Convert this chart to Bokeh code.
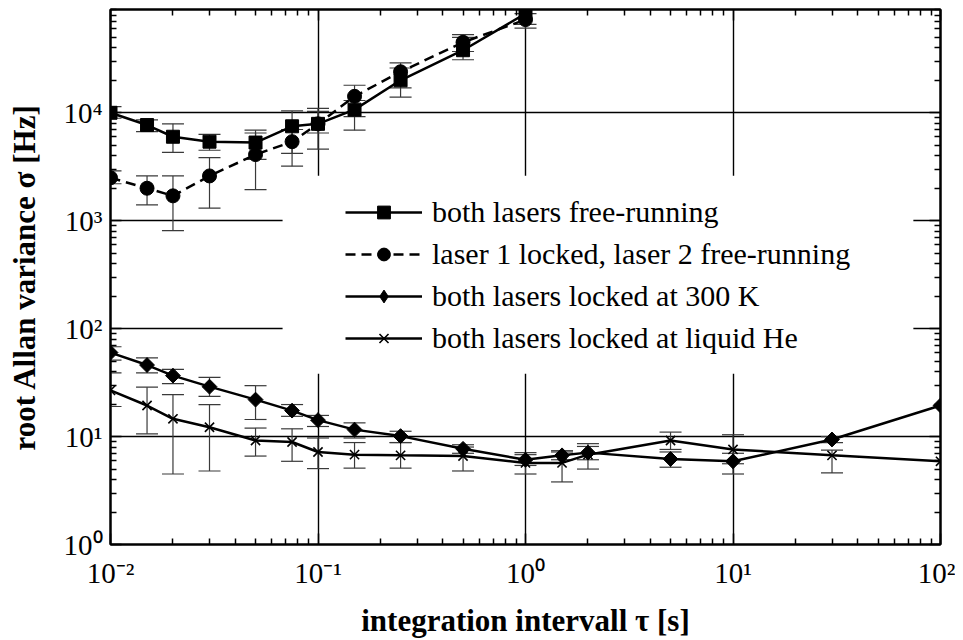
import numpy as np
from bokeh.plotting import figure
from bokeh.models import (ColumnDataSource, Whisker, TeeHead, Legend, LegendItem,
                          LogAxis, FixedTicker, CustomJSTickFormatter, BoxAnnotation, Range1d)
from bokeh.embed import file_html
from bokeh.resources import INLINE

# ---------------- data ----------------
tau_a = [0.01, 0.015, 0.02, 0.03, 0.05, 0.075, 0.1, 0.15, 0.25, 0.5, 1.0]
free_y = [1.0e4, 7.7e3, 6.0e3, 5.4e3, 5.3e3, 7.5e3, 7.9e3, 1.07e4, 2.0e4, 3.8e4, 8.3e4]
free_up = [1.14e4, 8.6e3, 7.9e3, 6.3e3, 6.9e3, 1.04e4, 1.1e4, 1.3e4, 2.6e4, 5.0e4, 9.5e4]
free_lo = [8.9e3, 6.7e3, 4.3e3, 4.5e3, 3.7e3, 4.2e3, 4.6e3, 6.9e3, 1.4e4, 3.1e4, 6.1e4]

l1_y = [2.5e3, 2.0e3, 1.7e3, 2.6e3, 4.1e3, 5.4e3, 7.9e3, 1.42e4, 2.4e4, 4.5e4, 7.3e4]
l1_up = [2.9e3, 2.6e3, 2.6e3, 3.85e3, 6.5e3, 7.0e3, 1.03e4, 1.8e4, 2.9e4, 5.3e4, 8.3e4]
l1_lo = [2.2e3, 1.4e3, 808, 1.31e3, 1.94e3, 3.2e3, 6.5e3, 9.2e3, 1.7e4, 3.7e4, 6.6e4]

tau_b = [0.01, 0.015, 0.02, 0.03, 0.05, 0.075, 0.1, 0.15, 0.25, 0.5, 1.0, 1.5, 2.0, 5.0, 10.0, 30.0, 100.0]
k300_y = [60, 46, 36.7, 29, 22, 17.4, 14.2, 11.6, 10.1, 7.7, 6.1, 6.7, 7.1, 6.2, 5.9, 9.4, 19.4]
k300_up = [68, 53.5, 42, 35.4, 29.6, 19.8, 15.7, 13.4, 11.2, 8.4, 7.1, 7.4, 8.6, 7.2, 7.0, 10.0, None]
k300_lo = [51, 39, 31, 23.6, 14.4, 15.4, 12.4, 9.7, 8.8, 7.0, 5.4, 6.1, 6.1, 5.2, 4.5, 8.8, None]

he_y = [26.8, 19.4, 14.6, 12.2, 9.2, 8.9, 7.2, 6.8, 6.7, 6.6, 5.7, 5.7, 6.8, 9.2, 7.6, 6.7, 5.9]
he_up = [39, 28.7, 24.5, 19.8, 12.0, 11.8, 9.7, 8.8, 8.8, 8.0, 6.8, 7.2, 8.1, 11.0, 10.4, 7.5, None]
he_lo = [19, 10.6, 4.5, 4.8, 6.6, 5.9, 5.05, 5.1, 5.1, 4.8, 4.5, 3.8, 5.0, 7.6, 5.6, 4.6, None]

labels = ["both lasers free-running",
          "laser 1 locked, laser 2 free-running",
          "both lasers locked at 300 K",
          "both lasers locked at liquid He"]

x_major = [0.01, 0.1, 1, 10, 100]
y_major = [1, 10, 100, 1000, 10000]
x_minor = [m * d for d in [0.01, 0.1, 1, 10] for m in range(2, 10)]
y_minor = [m * d for d in [1, 10, 100, 1000, 10000] for m in range(2, 10)]

# legend background (layout only)
legend_box = dict(left=0.0675, right=74.0, bottom=38.3, top=2611.0)

SERIF = "Liberation Serif"

p = figure(x_axis_type="log", y_axis_type="log",
           x_range=Range1d(0.01, 100), y_range=Range1d(1, 9.06e4),
           frame_width=830, frame_height=535,
           min_border_left=110, min_border_right=15, min_border_top=9, min_border_bottom=87,
           output_backend="svg", toolbar_location=None,
           background_fill_color="white", border_fill_color="white")
p.outline_line_color = "black"
p.outline_line_width = 2

fmt = CustomJSTickFormatter(code="""
const e = Math.round(Math.log10(tick));
const m = {'-':'\u207b','0':'\u2070','1':'\u00b9','2':'\u00b2','3':'\u00b3','4':'\u2074','5':'\u2075'};
return '10' + String(e).split('').map(c => m[c]).join('');
""")

def style_axis(ax, ticks, minor, show_labels):
    ax.ticker = FixedTicker(ticks=ticks, minor_ticks=minor)
    ax.axis_line_color = "black"
    ax.axis_line_width = 2
    ax.major_tick_in = 11
    ax.major_tick_out = 0
    ax.minor_tick_in = 6
    ax.minor_tick_out = 0
    ax.major_tick_line_width = 1.5
    ax.minor_tick_line_width = 1.5
    ax.major_tick_line_color = "black"
    ax.minor_tick_line_color = "black"
    if show_labels:
        ax.formatter = fmt
        ax.major_label_text_font = SERIF
        ax.major_label_text_font_size = "29px"
        ax.major_label_text_color = "black"
    else:
        ax.major_label_text_font_size = "2px"
        ax.major_label_text_alpha = 0.0
        ax.major_label_standoff = 0

style_axis(p.xaxis[0], x_major, x_minor, True)
style_axis(p.yaxis[0], y_major, y_minor, True)
p.xaxis[0].major_label_standoff = 12
p.yaxis[0].major_label_standoff = 8
p.xaxis[0].axis_label = "integration intervall \u03c4 [s]"
p.yaxis[0].axis_label = "root Allan variance \u03c3 [Hz]"
for ax in (p.xaxis[0], p.yaxis[0]):
    ax.axis_label_text_font = SERIF
    ax.axis_label_text_font_style = "bold"
    ax.axis_label_text_font_size = "31px"
    ax.axis_label_text_color = "black"
p.xaxis[0].axis_label_standoff = 11
p.yaxis[0].axis_label_standoff = 18

top_ax = LogAxis()
right_ax = LogAxis()
style_axis(top_ax, x_major, x_minor, False)
style_axis(right_ax, y_major, y_minor, False)
p.add_layout(top_ax, "above")
p.add_layout(right_ax, "right")

for g, t in ((p.xgrid[0], x_major), (p.ygrid[0], y_major)):
    g.ticker = FixedTicker(ticks=t)
    g.grid_line_color = "black"
    g.grid_line_width = 1.4
    g.grid_line_alpha = 1.0

# error bars
def add_err(x, up, lo):
    xs, us, ls = [], [], []
    for a, u, l in zip(x, up, lo):
        if u is not None and l is not None:
            xs.append(a); us.append(u); ls.append(l)
    src = ColumnDataSource(dict(x=xs, upper=us, lower=ls))
    w = Whisker(source=src, base="x", upper="upper", lower="lower", dimension="height",
                line_color="#3a3a3a", line_width=1.2,
                upper_head=TeeHead(size=22, line_color="#3a3a3a", line_width=1.2),
                lower_head=TeeHead(size=22, line_color="#3a3a3a", line_width=1.2))
    p.add_layout(w)

add_err(tau_a, free_up, free_lo)
add_err(tau_a, l1_up, l1_lo)
add_err(tau_b, k300_up, k300_lo)
add_err(tau_b, he_up, he_lo)

LW = 2.5
l_free = p.line(tau_a, free_y, line_color="black", line_width=LW)
l_l1 = p.line(tau_a, l1_y, line_color="black", line_width=LW, line_dash="10 6")
l_k = p.line(tau_b, k300_y, line_color="black", line_width=LW)
l_he = p.line(tau_b, he_y, line_color="black", line_width=LW)

m_l1 = p.scatter(tau_a, l1_y, marker="circle", size=14, fill_color="black", line_color="black")
m_free = p.scatter(tau_a, free_y, marker="square", size=13, fill_color="black", line_color="black")
m_k = p.scatter(tau_b, k300_y, marker="square", size=10.5, angle=np.pi / 4,
                fill_color="black", line_color="black")
m_he = p.scatter(tau_b, he_y, marker="x", size=13, line_color="black", line_width=1.6)
# legend-only diamond symbol (legend glyphs ignore marker rotation)
m_k_leg = p.scatter(tau_b, k300_y, marker="diamond", size=14, fill_color="black",
                    line_color="black", visible=False)

box = BoxAnnotation(fill_color="white", fill_alpha=1.0, line_alpha=0.0, **legend_box)
p.add_layout(box)

legend = Legend(items=[LegendItem(label=labels[0], renderers=[l_free, m_free]),
                       LegendItem(label=labels[1], renderers=[l_l1, m_l1]),
                       LegendItem(label=labels[2], renderers=[l_k, m_k_leg]),
                       LegendItem(label=labels[3], renderers=[l_he, m_he])],
                location=(221, 172), padding=14, margin=0, spacing=1,
                glyph_width=77, glyph_height=32, label_height=41, label_standoff=10,
                label_text_font=SERIF, label_text_font_size="30px", label_text_color="black",
                background_fill_alpha=0.0, border_line_alpha=0.0,
                inactive_fill_alpha=0.0)
p.add_layout(legend)

open("out.html", "w").write(file_html(p, INLINE))
